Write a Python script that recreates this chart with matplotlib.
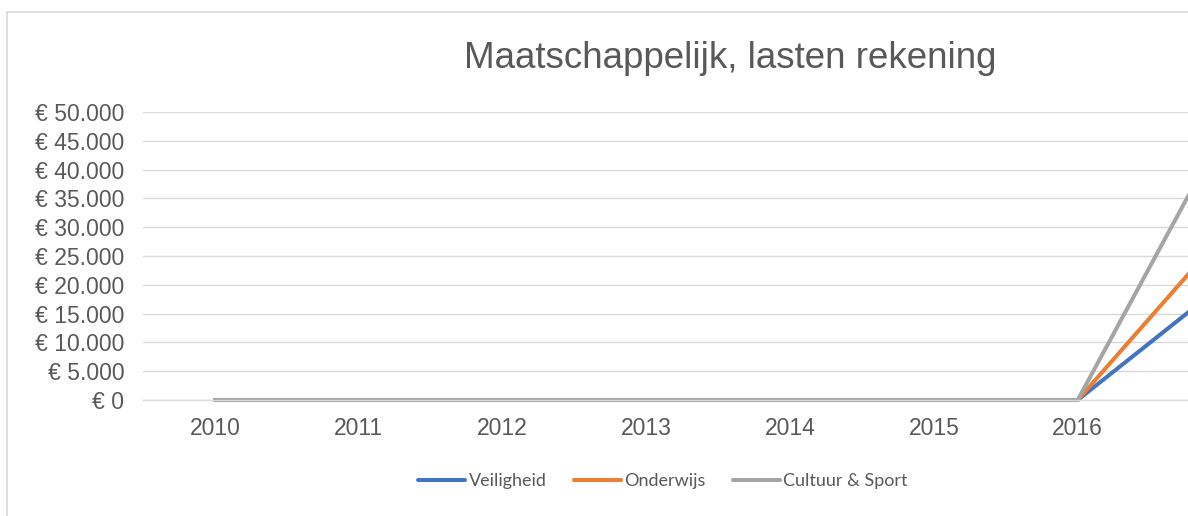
import matplotlib.pyplot as plt
import matplotlib.patches as mpatches
from matplotlib.ticker import FuncFormatter

plt.rcParams["font.family"] = ["Liberation Sans", "DejaVu Sans"]

years = ["2010", "2011", "2012", "2013", "2014", "2015", "2016", "2017"]
veiligheid = [0, 0, 0, 0, 0, 0, 0, 19800]
onderwijs = [0, 0, 0, 0, 0, 0, 0, 28400]
cultuur_sport = [0, 0, 0, 0, 0, 0, 0, 46100]

series = [("Veiligheid", veiligheid, "#4472C4"),
          ("Onderwijs", onderwijs, "#ED7D31"),
          ("Cultuur & Sport", cultuur_sport, "#A5A5A5")]

W, H = 1188, 516
fig = plt.figure(figsize=(W / 100, H / 100), dpi=100)
fig.patch.set_facecolor("white")

# chart border (only left and top visible, rest is cropped)
fig.patches.append(mpatches.Rectangle((7 / W, -0.1), 1.2, 1 - 12 / H + 0.1,
                                      transform=fig.transFigure, fill=False,
                                      edgecolor="#d9d9d9", linewidth=1.2))

# plot area runs past the right edge of the picture
ax = fig.add_axes([143 / W, 1 - 400 / H, 8 * 143.8 / W, (400 - 112) / H])
ax.set_facecolor("none")

x = list(range(len(years)))
for name, vals, col in series:
    ax.plot(x, vals, color=col, lw=2.9, label=name,
            solid_capstyle="round", solid_joinstyle="round", clip_on=False)

ax.set_xlim(-0.5, len(years) - 0.5)
ax.set_ylim(0, 50000)
ax.set_yticks(range(0, 50001, 5000))
ax.yaxis.set_major_formatter(FuncFormatter(
    lambda v, p: "€ " + f"{int(v):,}".replace(",", ".")))
# last category lies outside the visible picture
ax.set_xticks(x[:-1])
ax.set_xticklabels(years[:-1])

ax.grid(axis="y", color="#d9d9d9", lw=1.0)
ax.set_axisbelow(True)
for s in ["top", "right", "left"]:
    ax.spines[s].set_visible(False)
ax.spines["bottom"].set_color("#d9d9d9")
ax.spines["bottom"].set_linewidth(1.0)
ax.tick_params(axis="both", length=0, colors="#595959", labelsize=16.5)
ax.tick_params(axis="y", pad=13.5)
ax.tick_params(axis="x", pad=12)

fig.text(730 / W, 1 - 58 / H, "Maatschappelijk, lasten rekening",
         ha="center", va="center", fontsize=26.5, color="#595959")

leg = fig.legend(loc="center", bbox_to_anchor=(663 / W, 1 - 481 / H), ncol=3,
                 frameon=False, handlelength=2.6, handletextpad=0.2,
                 columnspacing=1.5, prop={"family": "Lato", "size": 13})
for t in leg.get_texts():
    t.set_color("#595959")

fig.savefig("out.png", dpi=100)
